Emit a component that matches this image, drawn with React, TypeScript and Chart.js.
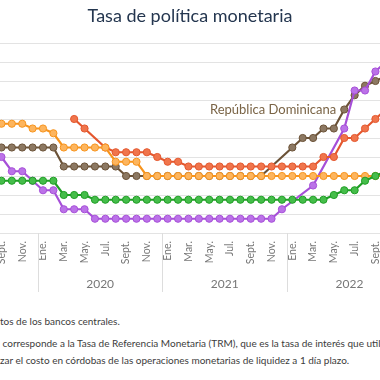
import React, { useEffect, useRef } from "react";
import { Chart, registerables } from "chart.js";

Chart.register(...registerables);

const TITLE = "Tasa de política monetaria";
const MONTH_LABELS = ["Ene.", "Feb.", "Mar.", "Abr.", "May.", "Jun.", "Jul.", "Ago.", "Sept.", "Oct.", "Nov.", "Dic."];
const YEARS = [2019, 2020, 2021, 2022];
// month index counted from Ene. 2019 = 0; every series starts at Sept. 2019
const FIRST_MONTH = 8;

// Sept 2019 ... Oct 2022 (38 months)
const HONDURAS = [5.75, 5.75, 5.75, 5.5, 5.5, 5.25, 4.5, 4.5, 4.5, 4.5, 4.5, 3.75, 3.75, 3.75,
  3, 3, 3, 3, 3, 3, 3, 3, 3, 3, 3, 3, 3, 3, 3, 3, 3, 3, 3, 3, 3, 3, 3, 3];
const REP_DOMINICANA = [4.5, 4.5, 4.5, 4.5, 4.5, 4.5, 3.5, 3.5, 3.5, 3.5, 3.5, 3.5,
  3, 3, 3, 3, 3, 3, 3, 3, 3, 3, 3, 3, 3, 3, null, null,
  4.5, 5, 5, 5.5, 5.5, 6.5, 7.25, 7.75, 8, 8.25];
const NICARAGUA = [null, null, null, null, null, null, null, 6, 5.5, null, 4.5, 4.25, 4.25, 4.25, 4.25, 4,
  3.75, 3.75, 3.5, 3.5, 3.5, 3.5, 3.5, 3.5, 3.5, 3.5, 3.5, 3.5, 3.5, 3.5, 3.5,
  4, 4, 5, 5, 5.5, 6, 6.5];
const GUATEMALA = [2.75, 2.75, 2.75, 2.75, 2.75, 2.75, 2, 2, 2,
  1.75, 1.75, 1.75, 1.75, 1.75, 1.75, 1.75, 1.75, 1.75, 1.75, 1.75, 1.75, 1.75, 1.75, 1.75, 1.75, 1.75, 1.75, 1.75, 1.75, 1.75, 1.75, 1.75,
  2, 2.25, 2.25, 2.75, 3, 3.25];
const COSTA_RICA = [4, 3.25, 3.25, 2.75, 2.25, 2.25, 1.25, 1.25, 1.25,
  0.75, 0.75, 0.75, 0.75, 0.75, 0.75, 0.75, 0.75, 0.75, 0.75, 0.75, 0.75, 0.75, 0.75, 0.75, 0.75, 0.75, 0.75,
  1.25, null, null, 2.5, null, null, 5.5, 7.5, 7.5, 8.5, 9];

const LABELLED_SERIES = "República Dominicana";
const LABELLED_MONTH = 33; // Jun. 2022 within the series

const Y_MIN = 0;
const Y_MAX = 10;
const Y_STEP = 1;

const FOOTNOTES = [
  { hidden: "Fuente: SECMCA con base en da", shown: "tos de los bancos centrales.", top: 315 },
  { hidden: "Nota: En el caso de Nicaragua, la tasa", shown: " corresponde a la Tasa de Referencia Monetaria (TRM), que es la tasa de interés que utiliza el BCN para", top: 337 },
  { hidden: "señali", shown: "zar el costo en córdobas de las operaciones monetarias de liquidez a 1 día plazo.", top: 354 },
];

// layout
const CANVAS_LEFT = -60;
const CANVAS_W = 500;
const CANVAS_H = 293;
const JAN2020_X = 40;
const PX_PER_MONTH = 10.6;
const X_MIN = 12 + (CANVAS_LEFT - JAN2020_X) / PX_PER_MONTH;
const X_MAX = X_MIN + CANVAS_W / PX_PER_MONTH;

const FONT = "Lato, 'Open Sans', sans-serif";

const SERIES = [
  { label: "Guatemala", data: GUATEMALA, line: "#1f9e25", fill: "#45bd4a", order: 1 },
  { label: "Honduras", data: HONDURAS, line: "#f7941d", fill: "#fdb55e", order: 2 },
  { label: "Nicaragua", data: NICARAGUA, line: "#e4572e", fill: "#f0754c", order: 3 },
  { label: "Costa Rica", data: COSTA_RICA, line: "#a64fd8", fill: "#bb72e8", order: 4 },
  { label: "República Dominicana", data: REP_DOMINICANA, line: "#6b5237", fill: "#8c7862", order: 5 },
];

const monthTicks: number[] = [];
for (let k = Math.ceil(X_MIN) + 1; k < X_MAX - 2; k++) {
  if (k % 2 === 0) monthTicks.push(k);
}
const yearCenters = YEARS.map((y) => (y - 2019) * 12 + 5.5);

const decorPlugin = {
  id: "decor",
  afterDatasetsDraw(chart: any) {
    const ctx = chart.ctx;
    const idx = chart.data.datasets.findIndex((d: any) => d.label === LABELLED_SERIES);
    const meta = chart.getDatasetMeta(idx);
    const pt = meta.data[LABELLED_MONTH];
    if (!pt) return;
    ctx.save();
    ctx.font = `13px ${FONT}`;
    ctx.fillStyle = "#7a6446";
    ctx.textAlign = "right";
    ctx.textBaseline = "middle";
    ctx.fillText(LABELLED_SERIES, pt.x - 8, pt.y);
    ctx.restore();
  },
  afterDraw(chart: any) {
    const ctx = chart.ctx;
    const xs = chart.scales.x;
    const bottom = chart.chartArea.bottom;
    ctx.save();
    ctx.strokeStyle = "#dddddd";
    ctx.lineWidth = 1;
    for (let i = 0; i <= YEARS.length; i++) {
      const k = (YEARS[0] - 2019 + i) * 12 - 0.5;
      const px = Math.round(xs.getPixelForValue(k)) + 0.5;
      ctx.beginPath();
      ctx.moveTo(px, bottom);
      ctx.lineTo(px, bottom + 59);
      ctx.stroke();
    }
    ctx.restore();
  },
};

export default function App() {
  const ref = useRef<HTMLCanvasElement | null>(null);
  useEffect(() => {
    if (!ref.current) return;
    const chart = new Chart(ref.current, {
      type: "line",
      data: {
        datasets: SERIES.map((s) => ({
          label: s.label,
          data: s.data.map((v, i) => ({ x: FIRST_MONTH + i, y: v })),
          borderColor: s.line,
          backgroundColor: s.fill,
          pointBackgroundColor: s.fill,
          pointBorderColor: s.line,
          pointRadius: 3.6,
          pointBorderWidth: 1,
          borderWidth: 2.2,
          spanGaps: true,
          tension: 0,
          order: s.order,
        })),
      },
      options: {
        animation: false,
        responsive: false,
        devicePixelRatio: 1,
        layout: { padding: 0 },
        plugins: {
          legend: { display: false },
          tooltip: { enabled: false },
          title: {
            display: true,
            text: TITLE,
            color: "#24364f",
            font: { family: FONT, size: 18, weight: "normal" },
            padding: { top: 5, bottom: 16.4 },
          },
        },
        scales: {
          x: {
            type: "linear",
            position: "bottom",
            weight: 0,
            min: X_MIN,
            max: X_MAX,
            afterBuildTicks: (s: any) => {
              s.ticks = monthTicks.map((v) => ({ value: v }));
            },
            afterFit: (s: any) => {
              s.height = 40;
            },
            ticks: {
              autoSkip: false,
              minRotation: 90,
              maxRotation: 90,
              padding: 8,
              color: "#777777",
              font: { family: FONT, size: 10.5 },
              callback: (v: any) => MONTH_LABELS[((Math.round(v) % 12) + 12) % 12],
            },
            grid: { display: false, drawTicks: false },
            border: { display: false },
          },
          yr: {
            type: "linear",
            position: "bottom",
            weight: 1,
            min: X_MIN,
            max: X_MAX,
            afterBuildTicks: (s: any) => {
              s.ticks = yearCenters.map((v) => ({ value: v }));
            },
            afterFit: (s: any) => {
              s.height = 20;
            },
            ticks: {
              autoSkip: false,
              minRotation: 0,
              maxRotation: 0,
              padding: 4,
              color: "#777777",
              font: { family: FONT, size: 12 },
              callback: (v: any) => String(2019 + Math.floor(v / 12)),
            },
            grid: { display: false, drawTicks: false },
            border: { display: false },
          },
          y: {
            type: "linear",
            min: Y_MIN,
            max: Y_MAX,
            afterFit: (s: any) => {
              s.width = 0;
            },
            ticks: { display: false, stepSize: Y_STEP },
            grid: { color: "#e3e3e3", drawTicks: false, lineWidth: 1 },
            border: { display: false },
          },
        },
      },
      plugins: [decorPlugin],
    } as any);
    return () => chart.destroy();
  }, []);

  return (
    <div
      style={{
        position: "fixed",
        left: 0,
        top: 0,
        width: 380,
        height: 380,
        overflow: "hidden",
        background: "#ffffff",
      }}
    >
      <canvas
        ref={ref}
        width={CANVAS_W}
        height={CANVAS_H}
        style={{ position: "absolute", left: CANVAS_LEFT, top: 0, width: CANVAS_W, height: CANVAS_H }}
      />
      {FOOTNOTES.map((f, i) => (
        <div
          key={i}
          style={{
            position: "absolute",
            left: 0,
            top: f.top,
            whiteSpace: "pre",
            fontFamily: FONT,
            fontSize: 10,
            lineHeight: "12px",
            color: "#3c3c3c",
          }}
        >
          <span style={{ position: "absolute", right: "100%", top: 0, whiteSpace: "pre" }}>{f.hidden}</span>
          {f.shown}
        </div>
      ))}
    </div>
  );
}
